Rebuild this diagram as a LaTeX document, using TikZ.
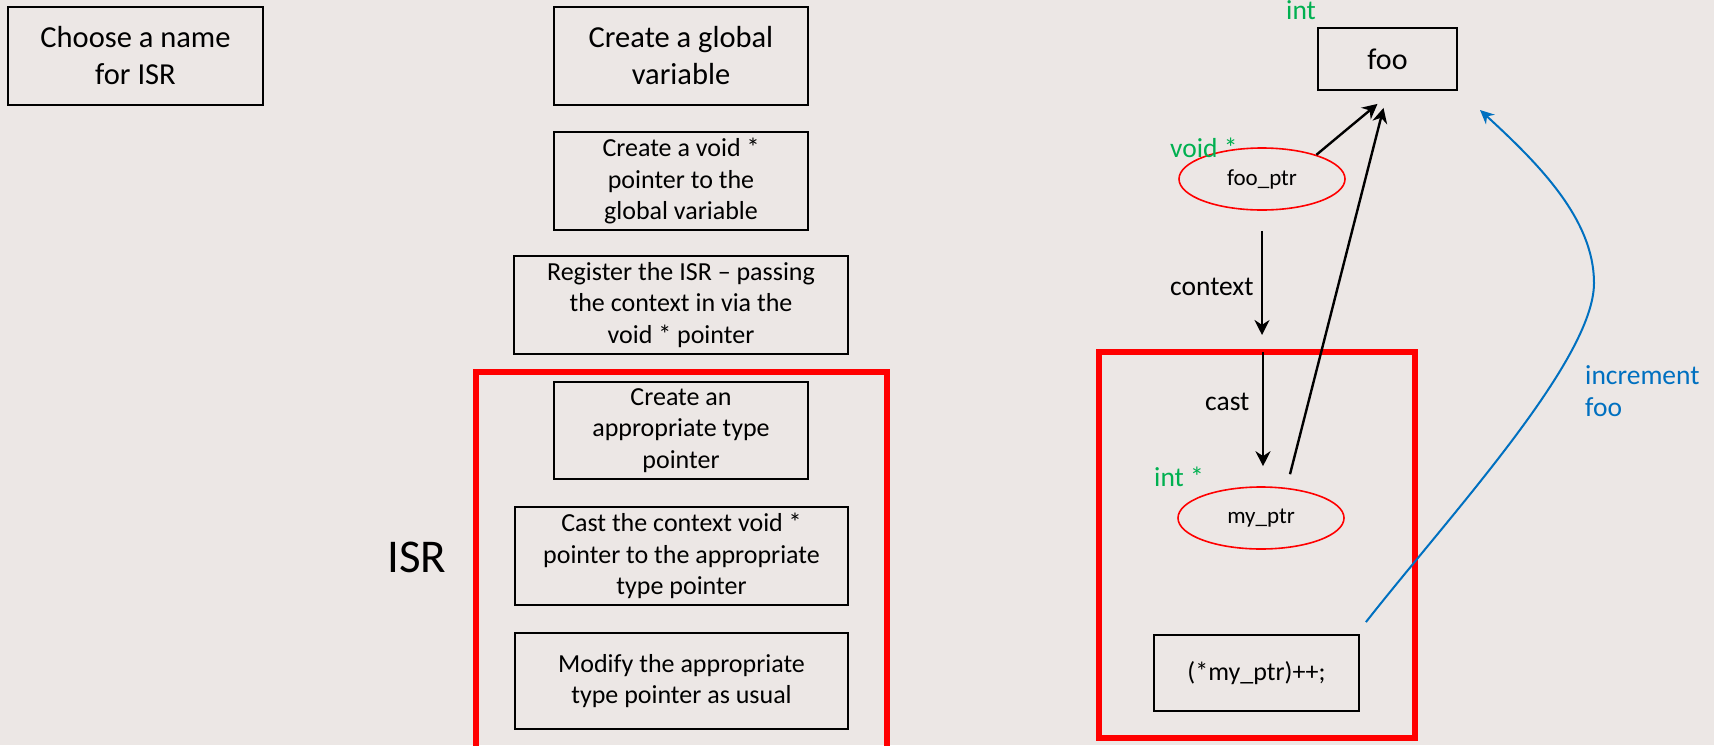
\documentclass[tikz,border=0pt]{standalone}
\usepackage{fontspec}
\setmainfont{Carlito}
\usetikzlibrary{calc, arrows.meta, positioning, shapes.geometric}
\definecolor{slidebg}{RGB}{236,231,229}
\definecolor{typegreen}{RGB}{0,176,80}
\definecolor{incblue}{RGB}{0,112,192}
\definecolor{isrred}{RGB}{255,0,0}

\begin{document}
\begin{tikzpicture}[x=1pt, y=-1pt, >=Stealth,
    stepbox/.style={draw, line width=1.8pt, align=center, inner sep=0pt,
      font=\fontsize{26}{31.5}\selectfont, minimum height=98pt},
    bigbox/.style={stepbox, font=\fontsize{30.5}{37}\selectfont},
    ptr/.style={ellipse, draw=isrred, line width=1.6pt, inner sep=0pt,
      minimum width=166pt, minimum height=62pt, font=\fontsize{23}{26}\selectfont},
    typelbl/.style={text=typegreen, inner sep=0pt, anchor=base west,
      font=\fontsize{27.5}{30}\selectfont},
    arrlbl/.style={typelbl, text=black},
    flow/.style={line width=2.4pt, -{Stealth[length=15pt, width=15pt]}},
    isrframe/.style={draw=isrred, line width=6pt}]

    % --- Background ---
    \useasboundingbox (0,0) rectangle (1714,745);
    \fill[slidebg] (0,0) rectangle (1714,745);

    % --- Steps ---
    \node[bigbox, minimum width=255pt] (name) at (135.5,56) {Choose a name\\for ISR};
    \node[bigbox, minimum width=254pt] (global) at (681,56) {Create a global\\variable};
    \node[stepbox, minimum width=254pt] (voidp) at (681,181)
      {Create a void *\\pointer to the\\global variable};
    \node[stepbox, minimum width=334pt] (reg) at (681,305)
      {Register the ISR -- passing\\the context in via the\\void * pointer};
    \node[stepbox, minimum width=254pt, minimum height=97pt] (apptype) at (681,430.5)
      {Create an\\appropriate type\\pointer};
    \node[stepbox, minimum width=333pt] (castp) at (681.5,556)
      {Cast the context void *\\pointer to the appropriate\\type pointer};
    \node[stepbox, minimum width=333pt, minimum height=96pt] (modify) at (681.5,681)
      {Modify the appropriate\\type pointer as usual};

    % --- ISR frame (left) ---
    \node[font=\fontsize{47}{50}\selectfont] (isr) at (417,557) {ISR};
    \begin{scope}
      \clip (0,0) rectangle (1714,745);
      \draw[isrframe] (476,372) rectangle (887,780);
    \end{scope}

    % --- Variables ---
    \node[draw, line width=1.8pt, inner sep=0pt, minimum width=139pt, minimum height=62pt,
      font=\fontsize{30}{34}\selectfont] (foo) at (1387.5,59) {foo};
    \node[typelbl] (fooT) at (1286,19) {int};
    \node[ptr] (fooptr) at (1262,179) {foo\_ptr};
    \node[typelbl] (fooptrT) at (1170,157) {void *};

    % --- ISR frame (right) ---
    \draw[isrframe] (1099,352) rectangle (1415,738);
    \node[ptr] (myptr) at (1261,518) {my\_ptr};
    \node[typelbl] (myptrT) at (1154,486) {int *};
    \node[draw, line width=1.8pt, inner sep=0pt, minimum width=205pt, minimum height=76pt,
      font=\fontsize{26}{30}\selectfont] (inc) at (1256.5,673) {(*my\_ptr)++;};

    % --- Arrow ends ---
    \coordinate (ctxTop) at ($(fooptr.south)+(0,20)$);
    \coordinate (ctxEnd) at (1262,335);
    \coordinate (castTop) at (1263,352);
    \coordinate (castEnd) at ($(myptr.north)+(2,-20)$);
    \coordinate (fooIn1) at ($(foo.south)+(-10,13)$);
    \coordinate (fooIn2) at ($(foo.south)+(-4,17)$);
    \coordinate (myOut) at ($(myptr.north)+(29,-12)$);
    \coordinate (incOut) at ($(inc.north east)+(6,-12)$);
    \coordinate (incTurn) at (1594,283);
    \coordinate (incEnd) at (1480,110);

    % --- Pointer arrows ---
    \draw[flow] (fooptr.24) -- (fooIn1);
    \draw[flow] (myOut) -- (fooIn2);
    \draw[flow] (ctxTop) -- (ctxEnd);
    \draw[flow] (castTop) -- (castEnd);
    \node[arrlbl] (ctxL) at (1170,295) {context};
    \node[arrlbl] (castL) at (1205,410) {cast};

    % --- Increment curve ---
    \draw[incblue, line width=2pt, -{Stealth[length=14pt, width=13pt]}]
      (incOut) .. controls (1450,515) and (1594,360) .. (incTurn)
      .. controls (1594,220) and (1540,165) .. (incEnd);
    \node[text=incblue, inner sep=0pt, anchor=north west, align=left,
      font=\fontsize{27.5}{32}\selectfont] (incL) at (1585,365) {increment\\foo};
  \end{tikzpicture}
\end{document}
